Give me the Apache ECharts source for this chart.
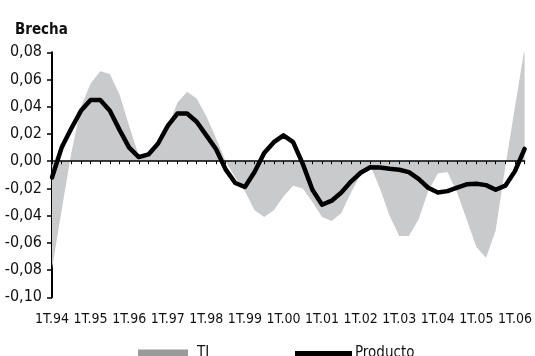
<!DOCTYPE html>
<html>
<head>
<meta charset="utf-8">
<script src="https://cdn.jsdelivr.net/npm/echarts@6/dist/echarts.min.js"></script>
<style>
html,body{margin:0;padding:0;background:#fff;}
#chart{width:535px;height:356px;}
</style>
</head>
<body>
<div id="chart"></div>
<script>
const categories = [
  "1T.94","2T.94","3T.94","4T.94","1T.95","2T.95","3T.95","4T.95",
  "1T.96","2T.96","3T.96","4T.96","1T.97","2T.97","3T.97","4T.97",
  "1T.98","2T.98","3T.98","4T.98","1T.99","2T.99","3T.99","4T.99",
  "1T.00","2T.00","3T.00","4T.00","1T.01","2T.01","3T.01","4T.01",
  "1T.02","2T.02","3T.02","4T.02","1T.03","2T.03","3T.03","4T.03",
  "1T.04","2T.04","3T.04","4T.04","1T.05","2T.05","3T.05","4T.05",
  "1T.06","2T.06"
];
const tiValues = [
  -0.079, -0.036, 0.006, 0.040, 0.057, 0.066, 0.064, 0.049, 0.026, 0.004,
  0.003, 0.011, 0.025, 0.043, 0.051, 0.046, 0.033, 0.017, 0.000, -0.012,
  -0.022, -0.036, -0.041, -0.036, -0.026, -0.018, -0.020, -0.030, -0.041, -0.044,
  -0.038, -0.023, -0.010, -0.003, -0.020, -0.040, -0.055, -0.055, -0.043, -0.022,
  -0.009, -0.008, -0.023, -0.043, -0.063, -0.071, -0.051, -0.004, 0.040, 0.083
];
const productoValues = [
  -0.012, 0.010, 0.024, 0.037, 0.045, 0.045, 0.037, 0.023, 0.010, 0.003,
  0.005, 0.013, 0.026, 0.035, 0.035, 0.029, 0.019, 0.009, -0.006, -0.016,
  -0.019, -0.008, 0.006, 0.014, 0.019, 0.014, -0.002, -0.021, -0.032, -0.029,
  -0.023, -0.015, -0.0085, -0.0045, -0.0046, -0.0056, -0.0063, -0.008, -0.013, -0.0195,
  -0.023, -0.022, -0.0195, -0.017, -0.0166, -0.0176, -0.021, -0.018, -0.0073, 0.009
];
const yMin = -0.10, yMax = 0.08, yStep = 0.02;

const FONT = '"Liberation Sans Narrow","DejaVu Sans Condensed","Liberation Sans",sans-serif';
const chart = echarts.init(document.getElementById('chart'), null, {renderer: 'canvas'});
chart.setOption({
  animation: false,
  backgroundColor: '#ffffff',
  title: {
    text: 'Brecha', left: 10, top: 18,
    textStyle: {fontFamily: FONT, fontWeight: 'bold', fontSize: 15, color: '#111'}
  },
  grid: {left: 52, right: 8.5, top: 52.3, bottom: 58.7, containLabel: false},
  legend: [
    {
      data: [{name: 'TI', itemStyle: {color: '#999a9c'}}],
      left: 133, top: 341, icon: 'rect', itemWidth: 50, itemHeight: 8,
      textStyle: {fontFamily: FONT, fontSize: 15, color: '#111', padding: [0, 0, 0, 4]}
    },
    {
      data: [{name: 'Producto', itemStyle: {color: '#000'}}],
      left: 290, top: 341, icon: 'rect', itemWidth: 57, itemHeight: 5,
      textStyle: {fontFamily: FONT, fontSize: 15, color: '#111', padding: [0, 0, 0, -2]}
    }
  ],
  xAxis: [
    {
      type: 'category', data: categories, boundaryGap: false, z: 3,
      axisLine: {onZero: true, lineStyle: {color: '#000', width: 1.5}},
      axisTick: {show: true, interval: 0, inside: false, length: 3, lineStyle: {color: '#000', width: 1}},
      axisLabel: {show: false}, splitLine: {show: false}
    },
    {
      type: 'category', data: categories, boundaryGap: false, position: 'bottom',
      axisLine: {show: false, onZero: false}, axisTick: {show: false},
      axisLabel: {
        interval: 0, showMinLabel: true, showMaxLabel: true, hideOverlap: false,
        margin: 15, fontFamily: FONT, fontSize: 14, color: '#111',
        formatter: v => (v.indexOf('1T') === 0 ? v : '')
      },
      splitLine: {show: false}
    }
  ],
  yAxis: {
    type: 'value', min: yMin, max: yMax, interval: yStep,
    axisLine: {show: true, lineStyle: {color: '#000', width: 2}},
    axisTick: {show: true, inside: false, length: 5, lineStyle: {color: '#000', width: 1.5}},
    axisLabel: {
      margin: 10, fontFamily: FONT, fontSize: 16, color: '#111',
      formatter: v => (Math.abs(v) < 1e-9 ? 0 : v).toFixed(2).replace('.', ',')
    },
    splitLine: {show: false}
  },
  series: [
    {
      name: 'TI', type: 'line', data: tiValues, xAxisIndex: 0,
      showSymbol: false, symbol: 'none', z: 1,
      itemStyle: {color: '#c9cacc'},
      lineStyle: {width: 0, color: '#c9cacc'},
      areaStyle: {color: '#c9cacc', opacity: 1, origin: 0}
    },
    {
      name: 'Producto', type: 'line', data: productoValues, xAxisIndex: 0,
      showSymbol: false, symbol: 'none', z: 5,
      itemStyle: {color: '#000'},
      lineStyle: {width: 4.5, color: '#000', join: 'round', cap: 'round'}
    }
  ]
});
</script>
</body>
</html>
